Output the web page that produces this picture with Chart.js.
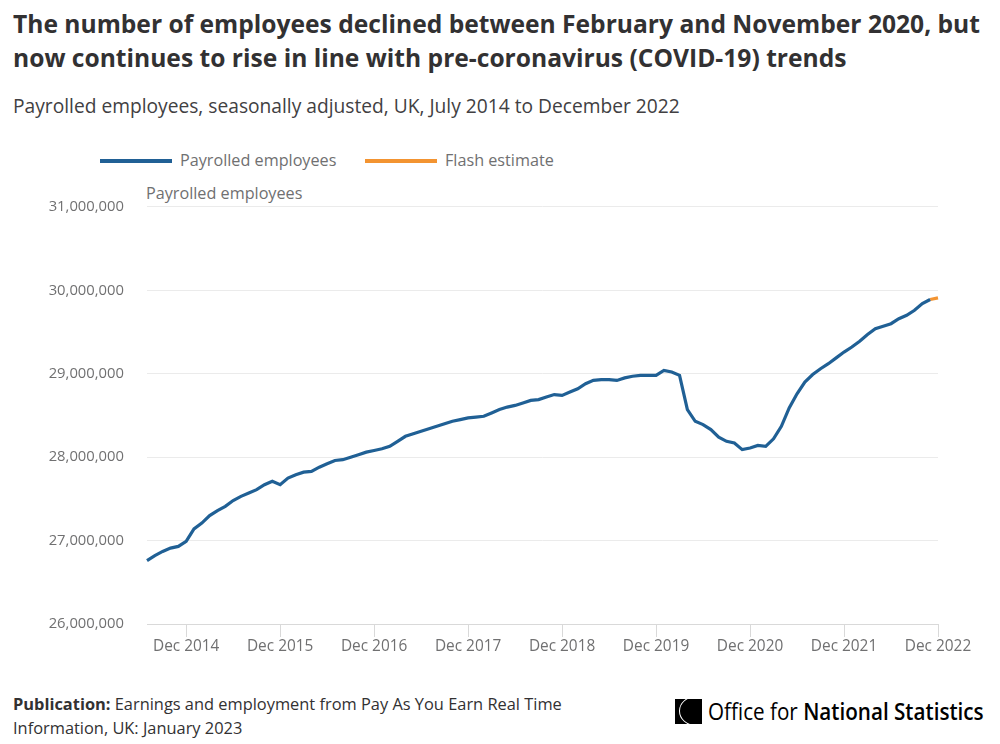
<!DOCTYPE html>
<html lang="en">

<head>
    <meta charset="UTF-8">
    <title>Payrolled employees, UK</title>
    <script src="https://cdn.jsdelivr.net/npm/chart.js@4.4.1/dist/chart.umd.min.js"></script>
    <style>
        body {
            margin: 0;
            background: #fff;
            font-family: "Open Sans", sans-serif;
        }

        #page {
            position: relative;
            width: 1000px;
            height: 744px;
            overflow: hidden;
        }

        .abs {
            position: absolute;
            white-space: nowrap;
        }

        #title {
            left: 13px;
            top: 7px;
            font-size: 24.6px;
            font-weight: 700;
            line-height: 34px;
            color: #323132;
        }

        #subtitle {
            left: 13px;
            top: 93px;
            font-size: 19.2px;
            line-height: 26px;
            color: #414042;
        }

        .legend-item {
            top: 149px;
            font-size: 16.2px;
            line-height: 22px;
            color: #707071;
        }

        .swatch {
            display: inline-block;
            width: 72px;
            height: 4px;
            vertical-align: middle;
            margin-right: 8px;
            position: relative;
            top: -1px;
        }

        #ylabel {
            left: 146px;
            top: 182px;
            font-size: 16.2px;
            line-height: 22px;
            color: #707071;
        }

        #chartBox {
            position: absolute;
            left: 0;
            top: 175px;
            width: 1000px;
            height: 486px;
        }

        #footer {
            left: 13px;
            top: 692px;
            font-size: 16.4px;
            line-height: 24px;
            color: #323132;
        }

        #logo {
            left: 675px;
            top: 699px;
        }

        #logoIcon {
            position: absolute;
            left: 0;
            top: 0;
            width: 27px;
            height: 25px;
            background: #000;
            overflow: hidden;
        }

        #logoIcon::after {
            content: "";
            position: absolute;
            left: 4px;
            top: -3px;
            width: 34px;
            height: 30px;
            border-radius: 50%;
            border: 1.5px solid #fff;
            box-sizing: border-box;
        }

        #logoText {
            position: absolute;
            left: 33px;
            top: -5px;
            font-size: 24px;
            line-height: 34px;
            color: #000;
            transform: scaleX(0.86);
            transform-origin: left center;
        }
    </style>
</head>

<body>
    <div id="page">
        <div id="title" class="abs">The number of employees declined between February and November 2020, but<br>now continues to rise in line with pre-coronavirus (COVID-19) trends</div>
        <div id="subtitle" class="abs">Payrolled employees, seasonally adjusted, UK, July 2014 to December 2022</div>

        <div class="abs legend-item" style="left:100px"><span class="swatch" style="background:#206095"></span>Payrolled employees</div>
        <div class="abs legend-item" style="left:365px"><span class="swatch" style="background:#F39431"></span>Flash estimate</div>

        <div id="ylabel" class="abs">Payrolled employees</div>

        <div id="chartBox"><canvas id="payrollChart"></canvas></div>

        <div id="footer" class="abs"><b>Publication:</b> Earnings and employment from Pay As You Earn Real Time<br>Information, UK: January 2023</div>

        <div id="logo" class="abs">
            <div id="logoIcon"></div>
            <div id="logoText">Office for <span style="font-weight:600">National Statistics</span></div>
        </div>
    </div>

    <script>
        // months run July 2014 .. December 2022
        const startYear = 2014;
        const startMonth = 6; // July (0-based)
        const monthNames = ['Jan', 'Feb', 'Mar', 'Apr', 'May', 'Jun', 'Jul', 'Aug', 'Sep', 'Oct', 'Nov', 'Dec'];

        const months = [];
        for (let i = 0; i < 102; i++) {
            const m = (startMonth + i) % 12;
            const y = startYear + Math.floor((startMonth + i) / 12);
            months.push(monthNames[m] + ' ' + y);
        }

        // payrolled employees, Jul 2014 .. Nov 2022
        const payrolled = [
            26760000, 26820000, 26870000, 26910000, 26930000, 26990000,
            27140000, 27210000, 27300000, 27360000, 27410000, 27480000, 27530000, 27570000, 27610000, 27670000, 27710000, 27670000,
            27750000, 27790000, 27820000, 27830000, 27880000, 27920000, 27960000, 27970000, 28000000, 28030000, 28060000, 28080000,
            28100000, 28130000, 28190000, 28250000, 28280000, 28310000, 28340000, 28370000, 28400000, 28430000, 28450000, 28470000,
            28480000, 28490000, 28530000, 28570000, 28600000, 28620000, 28650000, 28680000, 28690000, 28720000, 28750000, 28740000,
            28780000, 28820000, 28880000, 28920000, 28930000, 28930000, 28920000, 28950000, 28970000, 28980000, 28980000, 28980000,
            29040000, 29020000, 28980000, 28570000, 28430000, 28390000, 28330000, 28240000, 28190000, 28170000, 28090000, 28110000,
            28140000, 28130000, 28220000, 28370000, 28590000, 28760000, 28900000, 28990000, 29060000, 29120000, 29190000, 29260000,
            29320000, 29390000, 29470000, 29540000, 29570000, 29600000, 29660000, 29700000, 29760000, 29840000, 29890000
        ];

        // flash estimate, Nov 2022 .. Dec 2022
        const flashMonths = ['Nov 2022', 'Dec 2022'];
        const flashValues = [29890000, 29910000];

        const tickMonths = ['Dec 2014', 'Dec 2015', 'Dec 2016', 'Dec 2017', 'Dec 2018', 'Dec 2019', 'Dec 2020', 'Dec 2021', 'Dec 2022'];

        const flash = months.map(m => {
            const k = flashMonths.indexOf(m);
            return k >= 0 ? flashValues[k] : null;
        });

        Chart.defaults.font.family = '"Open Sans", sans-serif';
        Chart.defaults.color = '#707071';

        const ctx = document.getElementById('payrollChart').getContext('2d');
        new Chart(ctx, {
            type: 'line',
            data: {
                labels: months,
                datasets: [
                    {
                        label: 'Payrolled employees',
                        data: payrolled,
                        borderColor: '#206095',
                        backgroundColor: '#206095',
                        borderWidth: 3.2,
                        pointRadius: 0,
                        tension: 0
                    },
                    {
                        label: 'Flash estimate',
                        data: flash,
                        borderColor: '#F39431',
                        backgroundColor: '#F39431',
                        borderWidth: 3.2,
                        pointRadius: 0,
                        tension: 0
                    }
                ]
            },
            options: {
                responsive: true,
                maintainAspectRatio: false,
                animation: false,
                layout: {
                    padding: { top: 20, right: 62, bottom: 0, left: 0 }
                },
                plugins: {
                    legend: { display: false },
                    tooltip: { enabled: false }
                },
                scales: {
                    x: {
                        type: 'category',
                        offset: false,
                        afterFit: s => { s.height = 37; },
                        grid: {
                            drawOnChartArea: false,
                            drawTicks: true,
                            tickLength: 13,
                            color: '#d9d9d9'
                        },
                        border: { display: true, color: '#d9d9d9' },
                        ticks: {
                            autoSkip: false,
                            maxRotation: 0,
                            padding: 0,
                            font: { size: 15.4 },
                            color: '#707071',
                            callback: function (value) {
                                const lab = this.getLabelForValue(value);
                                return tickMonths.includes(lab) ? lab : null;
                            }
                        }
                    },
                    y: {
                        min: 26000000,
                        max: 31000000,
                        afterFit: s => { s.width = 147; },
                        grid: {
                            color: '#ebebeb',
                            drawTicks: false
                        },
                        border: { display: false },
                        ticks: {
                            stepSize: 1000000,
                            padding: 23,
                            font: { size: 14.8 },
                            color: '#707071',
                            callback: v => v.toLocaleString('en-GB')
                        }
                    }
                }
            }
        });
    </script>
</body>

</html>
